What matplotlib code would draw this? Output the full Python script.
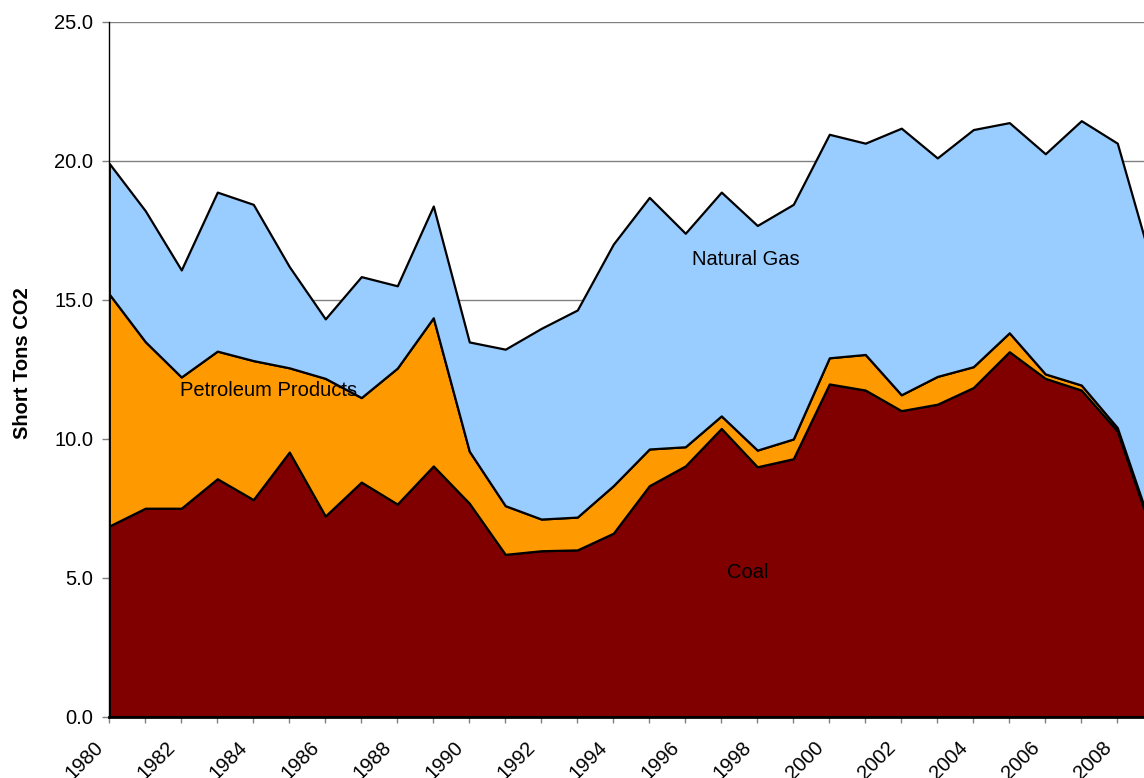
import matplotlib
matplotlib.use("Agg")
import matplotlib.pyplot as plt
import matplotlib.transforms as mtransforms
import numpy as np

years = list(range(1980, 2010))
coal = [6.86, 7.50, 7.50, 8.56, 7.81, 9.52, 7.22, 8.44, 7.65, 9.02,
        7.68, 5.84, 5.97, 6.00, 6.60, 8.31, 9.02, 10.37, 8.99, 9.28,
        11.97, 11.75, 11.01, 11.24, 11.84, 13.13, 12.17, 11.75, 10.28, 6.50]
petroleum = [8.34, 5.99, 4.72, 4.59, 5.00, 3.03, 4.95, 3.04, 4.89, 5.33,
             1.87, 1.75, 1.14, 1.18, 1.71, 1.32, 0.69, 0.45, 0.60, 0.71,
             0.94, 1.28, 0.57, 1.00, 0.75, 0.68, 0.16, 0.18, 0.12, 0.10]
natural_gas = [4.70, 4.71, 3.85, 5.72, 5.62, 3.64, 2.14, 4.35, 2.96, 4.02,
               3.93, 5.63, 6.86, 7.45, 8.69, 9.05, 7.68, 8.05, 8.08, 8.44,
               8.04, 7.60, 9.59, 7.86, 8.53, 7.56, 7.92, 9.51, 10.23, 9.50]
series_names = ["Coal", "Petroleum Products", "Natural Gas"]
colors = ["#800000", "#FF9900", "#99CCFF"]
yticks = [0, 5, 10, 15, 20, 25]

plt.rcParams['font.family'] = ['Liberation Sans', 'DejaVu Sans']
FS = 14.5

fig = plt.figure(figsize=(11.44, 7.78), dpi=100)
W, H = 1144, 778
left, right, top, bottom = 109.3, 109.3 + 29 * 36, 21.7, 716.7
ax = fig.add_axes([left / W, 1 - bottom / H, (right - left) / W, (bottom - top) / H])

ax.set_axisbelow(True)
ax.yaxis.grid(True, color="#808080", linewidth=1.0)
ax.stackplot(years, coal, petroleum, natural_gas, colors=colors,
             edgecolor="black", linewidth=1.6, labels=series_names, zorder=2)

ax.set_xlim(1980, 2009)
ax.set_ylim(0, 25)
ax.set_yticks(yticks)
ax.set_yticklabels([f"{v:.1f}" for v in yticks], fontsize=FS)
ax.set_xticks(years)
ax.set_xticklabels([str(y) if y % 2 == 0 else "" for y in years], fontsize=FS,
                   rotation=45, ha="right", va="center", rotation_mode="anchor")
ax.tick_params(axis="y", direction="out", length=5, width=1, color="#808080", pad=6.7)
ax.tick_params(axis="x", direction="out", length=4.5, width=1, color="#808080", pad=15.3)

shift = mtransforms.ScaledTranslation(-0.09, 0, fig.dpi_scale_trans)
for lbl in ax.get_xticklabels():
    lbl.set_transform(lbl.get_transform() + shift)

for s in ["top", "right"]:
    ax.spines[s].set_visible(False)
ax.spines["left"].set_color("black")
ax.spines["left"].set_linewidth(1.0)
ax.spines["bottom"].set_color("black")
ax.spines["bottom"].set_linewidth(2.0)
ax.spines["left"].set_zorder(3)
ax.spines["bottom"].set_zorder(3)

ax.set_ylabel("Short Tons CO2", fontsize=FS, fontweight="bold")
ax.yaxis.set_label_coords(-0.074, 0.509)

ax.text(1981.95, 11.75, "Petroleum Products", fontsize=FS, ha="left", va="center", zorder=4)
ax.text(1996.2, 16.43, "Natural Gas", fontsize=FS, ha="left", va="center", zorder=4)
ax.text(1997.15, 5.2, "Coal", fontsize=FS, ha="left", va="center", zorder=4)

fig.savefig("out.png", dpi=100)
